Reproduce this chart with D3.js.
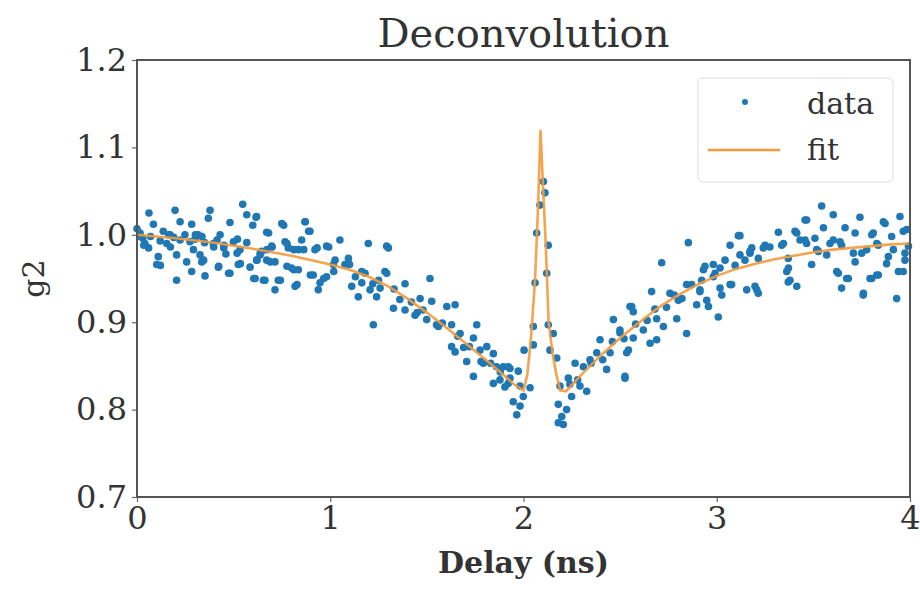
<!DOCTYPE html>
<meta charset="utf-8">
<style>
  body { margin: 0; background: #fff; }
  text { font-family: 'DejaVu Serif', serif; fill: #333; }
</style>
<div id="chart"></div>
<script src="https://d3js.org/d3.v7.min.js"></script>
<script>
// measured points (delay in ns, g2)
var dataX = [
  0.000,0.016,0.030,0.041,0.060,0.062,0.070,0.085,0.102,0.110,0.120,0.136,0.154,0.171,0.190,0.197,0.205,0.205,0.223,0.223,
  0.248,0.257,0.274,0.283,0.283,0.292,0.300,0.317,0.326,0.335,0.350,0.352,0.369,0.378,0.395,0.421,0.430,0.450,0.460,0.481,
  0.481,0.499,0.520,0.524,0.533,0.547,0.568,0.568,0.585,0.599,0.611,0.616,0.619,0.619,0.637,0.645,0.654,0.662,0.671,0.671,
  0.697,0.714,0.714,0.731,0.749,0.766,0.783,0.800,0.818,0.835,0.835,0.852,0.869,0.895,0.912,0.921,0.938,0.947,0.981,0.981,
  1.016,1.025,1.050,1.076,1.094,1.111,1.145,1.163,1.163,1.197,1.206,1.223,1.240,1.258,1.283,1.292,1.292,1.301,1.327,1.387,
  1.387,1.439,1.465,1.499,1.516,1.525,1.559,1.603,1.628,1.628,1.646,1.646,1.672,1.706,1.741,1.741,1.758,1.775,1.792,1.810,
  1.844,1.844,1.861,1.878,1.896,1.904,1.921,1.922,1.930,1.947,1.965,1.973,1.982,1.982,1.999,2.003,2.034,2.051,2.051,2.060,
  2.068,2.085,2.103,2.111,2.120,2.128,2.128,2.137,2.154,2.172,2.180,2.180,2.189,2.198,2.206,2.223,2.232,2.249,2.267,2.292,
  2.310,2.327,2.344,2.379,2.396,2.430,2.448,2.465,2.499,2.499,2.525,2.525,2.534,2.543,2.551,2.560,2.568,2.568,2.620,2.655,
  2.663,2.689,2.689,2.715,2.724,2.758,2.793,2.801,2.844,2.844,2.853,2.896,2.913,2.931,2.957,2.982,3.008,3.017,3.026,3.069,
  3.069,3.095,3.112,3.146,3.155,3.172,3.181,3.198,3.215,3.215,3.250,3.319,3.336,3.362,3.370,3.370,3.405,3.414,3.457,3.457,
  3.491,3.508,3.526,3.543,3.552,3.569,3.603,3.603,3.629,3.646,3.646,3.664,3.681,3.716,3.716,3.741,3.750,3.759,3.802,3.802,
  3.836,3.836,3.862,3.888,3.905,3.931,3.940,3.948,3.974,3.983,3.992,
  // dense band, left plateau
  0.017,0.164,0.302,0.336,0.414,0.035,0.173,0.397,0.449,0.518,0.638,0.673,0.699,0.776,0.811,0.863,0.932,0.992,0.621,0.690,
  0.776,0.811,0.897,0.966,1.018,0.742,0.828,0.604,0.121,0.345,0.423,0.474,0.535,0.871,0.888,0.759,0.681,
  // dense band, right plateau
  3.465,3.120,3.414,3.810,3.871,3.965,2.939,2.982,3.043,3.120,3.172,3.241,3.275,3.345,3.431,3.465,3.517,3.586,3.638,3.707,
  3.776,3.828,3.914,3.974,2.922,3.017,3.077,3.207,3.371,3.379,3.621,3.672,3.758,3.793,3.828,3.879,3.965,2.948,2.913,2.991,
  // dense band, slopes
  1.100,1.130,1.180,1.220,1.250,1.330,1.360,1.420,1.450,1.480,1.550,1.580,1.660,1.690,1.720,1.780,1.830,1.880,1.930,
  2.240,2.280,2.350,2.410,2.460,2.520,2.580,2.640,2.680,2.740,2.780,2.820,2.870
];
var dataY = [
  1.007,1.002,0.996,0.990,0.985,1.025,0.998,1.012,0.966,0.975,0.993,1.004,0.990,1.000,0.997,1.028,0.977,0.948,1.015,0.994,
  1.000,0.969,0.992,1.012,0.958,0.983,0.995,1.000,0.977,0.969,0.991,0.953,1.019,1.028,0.990,0.963,1.000,0.988,0.978,1.014,
  0.956,0.992,0.995,0.966,0.983,1.035,1.023,0.991,0.963,1.011,0.950,1.020,1.021,0.971,0.977,0.981,0.948,0.948,1.003,0.971,
  0.987,0.969,0.937,0.948,1.013,0.992,0.985,0.962,0.941,0.983,0.960,0.994,1.015,1.004,0.954,0.983,0.937,0.945,0.987,0.952,
  0.966,0.971,0.994,0.966,0.973,0.941,0.929,0.958,0.945,0.990,0.937,0.897,0.929,0.939,0.958,0.987,0.956,0.985,0.916,0.944,
  0.914,0.908,0.927,0.903,0.950,0.924,0.895,0.918,0.897,0.872,0.920,0.866,0.887,0.855,0.882,0.838,0.897,0.868,0.853,0.872,
  0.864,0.830,0.849,0.834,0.849,0.826,0.830,0.849,0.847,0.809,0.794,0.844,0.827,0.804,0.815,0.868,0.825,0.895,0.874,0.945,
  1.002,1.034,1.061,1.048,0.956,0.988,0.897,0.868,0.887,0.859,0.806,0.785,0.827,0.792,0.783,0.800,0.836,0.815,0.853,0.827,
  0.849,0.821,0.857,0.865,0.880,0.846,0.865,0.903,0.888,0.891,0.838,0.836,0.865,0.868,0.918,0.918,0.882,0.912,0.891,0.876,
  0.935,0.904,0.880,0.968,0.895,0.933,0.904,0.925,0.943,0.887,0.991,0.920,0.935,0.960,0.918,0.952,0.906,0.962,0.931,0.988,
  0.943,0.965,0.999,0.971,0.937,0.979,0.985,0.941,0.973,0.933,0.988,1.003,0.988,0.958,0.973,0.946,1.004,0.941,1.017,0.994,
  0.966,0.996,0.981,1.033,1.008,0.977,1.023,0.994,0.956,0.988,0.939,1.008,0.950,1.002,0.969,1.020,0.979,0.933,1.000,0.950,
  0.988,0.954,1.015,0.975,0.998,0.927,0.958,1.021,0.971,1.006,0.987,
  0.998,1.000,1.000,0.998,0.994,0.988,0.986,0.986,0.985,0.979,0.979,0.983,0.986,0.990,0.983,0.983,0.985,0.986,0.971,0.969,
  0.964,0.960,0.954,0.950,0.958,0.948,0.943,0.950,0.965,0.971,0.964,0.956,0.967,1.015,1.004,1.011,1.002,
  1.017,0.999,1.002,1.002,1.013,1.004,0.964,0.966,0.971,0.977,0.981,0.985,0.986,0.990,0.994,0.990,0.983,0.990,0.992,0.979,
  0.983,0.990,0.983,0.979,0.948,0.939,0.943,0.937,0.962,0.948,0.958,0.950,0.931,0.950,0.954,0.967,0.958,0.925,0.937,0.956,
  0.966,0.952,0.956,0.944,0.948,0.938,0.926,0.923,0.911,0.914,0.897,0.899,0.884,0.871,0.872,0.855,0.853,0.843,0.836,
  0.829,0.834,0.853,0.857,0.878,0.881,0.898,0.902,0.915,0.917,0.931,0.927,0.943
];

// fitted model
var fitX = [0, 0.2, 0.4, 0.6, 0.8, 1.0, 1.1, 1.2, 1.3, 1.4, 1.5, 1.6, 1.7, 1.8, 1.9, 1.95, 2.0,
  2.02, 2.04, 2.06, 2.075, 2.088, 2.10, 2.115, 2.13, 2.15, 2.17, 2.19, 2.22,
  2.3, 2.4, 2.5, 2.6, 2.7, 2.8, 2.9, 3.0, 3.1, 3.2, 3.3, 3.4, 3.5, 3.6, 3.7, 3.8, 3.9, 4.0];
var fitY = [1.0, 0.996, 0.991, 0.984, 0.976, 0.966, 0.96, 0.952, 0.941, 0.927, 0.911, 0.894, 0.876, 0.858, 0.839, 0.829, 0.822,
  0.84, 0.885, 0.95, 1.03, 1.12, 1.06, 0.99, 0.9, 0.865, 0.84, 0.822, 0.821,
  0.84, 0.862, 0.882, 0.9, 0.917, 0.931, 0.943, 0.953, 0.961, 0.967, 0.972, 0.976, 0.98, 0.983, 0.985, 0.987, 0.989, 0.99];

var xTicks = [0, 1, 2, 3, 4];
var yTicks = [0.7, 0.8, 0.9, 1.0, 1.1, 1.2];

var margin = {top: 60, right: 10, bottom: 95, left: 137},
    width = 920 - margin.left - margin.right,
    height = 592 - margin.top - margin.bottom;

var svg = d3.select("#chart")
  .append("svg")
    .attr("width", 920)
    .attr("height", 592)
  .append("g")
    .attr("transform", "translate(" + margin.left + "," + margin.top + ")");

var x = d3.scaleLinear().domain([0, 4]).range([0, width]);
var y = d3.scaleLinear().domain([0.7, 1.2]).range([height, 0]);

// scatter points
svg.selectAll("circle.pt")
  .data(dataX)
  .enter()
  .append("circle")
    .attr("class", "pt")
    .attr("cx", function(d) { return x(d); })
    .attr("cy", function(d, i) { return y(dataY[i]); })
    .attr("r", 3.8)
    .style("fill", "#1f77b4");

// fit line
var line = d3.line()
  .x(function(d) { return x(d); })
  .y(function(d, i) { return y(fitY[i]); });

svg.append("path")
  .datum(fitX)
  .attr("d", line)
  .style("fill", "none")
  .style("stroke", "#f39a3c")
  .style("stroke-width", 2.6)
  .style("opacity", 0.9);

// axes
var xAxis = svg.append("g")
  .attr("transform", "translate(0," + height + ")")
  .call(d3.axisBottom(x).tickValues(xTicks).tickFormat(d3.format("d")).tickSize(5).tickPadding(4));
var yAxis = svg.append("g")
  .call(d3.axisLeft(y).tickValues(yTicks).tickFormat(d3.format(".1f")).tickSize(5).tickPadding(5));

[xAxis, yAxis].forEach(function(a) {
  a.select(".domain").remove();
  a.selectAll("line").style("stroke", "#666").style("stroke-width", 1.2);
  a.selectAll("text").style("font-family", "'DejaVu Serif', serif").style("font-size", "32px").style("fill", "#333");
});

// frame
svg.append("rect")
  .attr("width", width)
  .attr("height", height)
  .style("fill", "none")
  .style("stroke", "#555")
  .style("stroke-width", 2);

// labels
svg.append("text")
  .attr("x", width / 2)
  .attr("y", -13)
  .attr("text-anchor", "middle")
  .style("font-size", "40px")
  .text("Deconvolution");

svg.append("text")
  .attr("x", width / 2)
  .attr("y", height + 76)
  .attr("text-anchor", "middle")
  .style("font-size", "30px")
  .style("font-weight", "bold")
  .text("Delay (ns)");

svg.append("text")
  .attr("transform", "translate(-93," + (height / 2) + ") rotate(-90)")
  .attr("text-anchor", "middle")
  .style("font-size", "30px")
  .text("g2");

// legend
var legend = svg.append("g").attr("transform", "translate(" + (698 - margin.left) + "," + (78 - margin.top) + ")");
legend.append("rect")
  .attr("width", 195)
  .attr("height", 104)
  .attr("rx", 5)
  .style("fill", "#fff")
  .style("fill-opacity", 0.8)
  .style("stroke", "#ddd");
legend.append("circle")
  .attr("cx", 47).attr("cy", 24).attr("r", 3)
  .style("fill", "#1f77b4");
legend.append("text")
  .attr("x", 109).attr("y", 36)
  .style("font-size", "30px")
  .text("data");
legend.append("line")
  .attr("x1", 10).attr("x2", 82).attr("y1", 72).attr("y2", 72)
  .style("stroke", "#f39a3c").style("stroke-width", 2.6);
legend.append("text")
  .attr("x", 109).attr("y", 82)
  .style("font-size", "30px")
  .text("fit");
</script>
